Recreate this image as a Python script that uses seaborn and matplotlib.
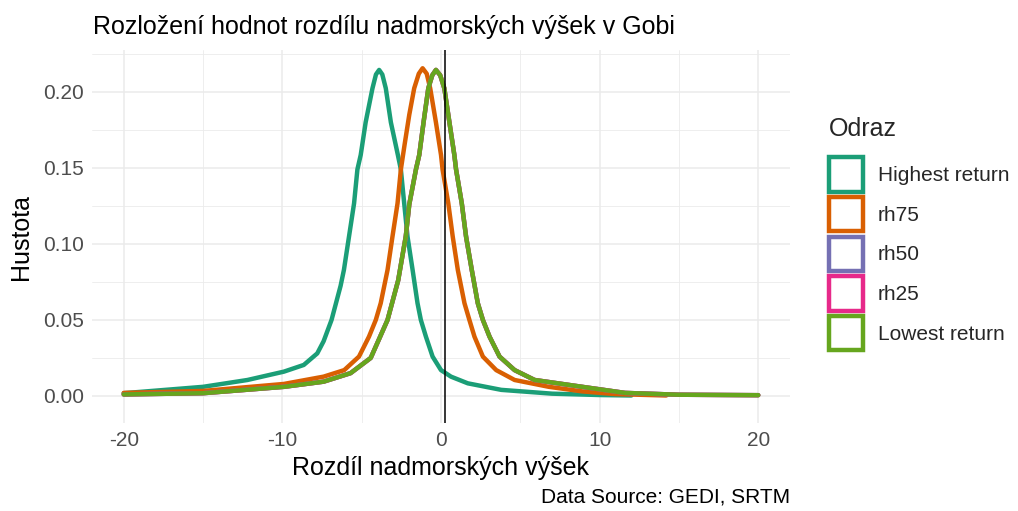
import matplotlib
matplotlib.use("Agg")
import matplotlib.pyplot as plt
from matplotlib.patches import Patch
from matplotlib.ticker import MultipleLocator
import seaborn as sns
import pandas as pd

# ---- data ----
series = ["Highest return", "rh75", "rh50", "rh25", "Lowest return"]
colors = ["#1b9e77", "#d95f02", "#7570b3", "#e7298a", "#66a61e"]

hr_x = [-20, -15, -12.2, -9.9, -8.65, -7.8, -7.4, -6.9, -6.33, -6.12, -5.8, -5.48, -5.27,
        -5.06, -4.75, -4.32, -4.1, -3.9, -3.7, -3.48, -3.16, -2.72, -2.53, -2.32, -2.11,
        -1.79, -1.48, -1.27, -0.95, -0.53, 0.0, 0.63, 1.69, 3.8, 7, 10, 12]
hr_y = [0.0018, 0.006, 0.0105, 0.016, 0.0204, 0.028, 0.036, 0.050, 0.0724, 0.0829, 0.1048,
        0.1267, 0.149, 0.1586, 0.180, 0.2024, 0.2115, 0.2145, 0.2115, 0.2024, 0.180, 0.1586,
        0.149, 0.1267, 0.1048, 0.0829, 0.061, 0.050, 0.039, 0.0259, 0.017, 0.0127, 0.0083,
        0.004, 0.0015, 0.0006, 0.0003]

r75_x = [-20, -15, -9.9, -7.4, -6.1, -5.17, -4.54, -4.11, -3.8, -3.37, -3.06, -2.74, -2.53,
         -2.3, -2.0, -1.69, -1.4, -1.16, -0.9, -0.68, -0.32, 0.0, 0.1, 0.46, 0.74, 1.06,
         1.48, 1.79, 2.11, 2.64, 3.48, 4.64, 6.8, 8.9, 11, 14.2]
r75_y = [0.002, 0.0033, 0.0079, 0.0127, 0.017, 0.0259, 0.039, 0.050, 0.061, 0.0829, 0.1048,
         0.1267, 0.149, 0.165, 0.185, 0.2024, 0.212, 0.2156, 0.212, 0.2024, 0.180, 0.1586,
         0.149, 0.1267, 0.1048, 0.0829, 0.061, 0.050, 0.039, 0.0259, 0.017, 0.0105, 0.006,
         0.003, 0.0012, 0.0003]

low_x = [-20, -15, -9.9, -7.4, -5.7, -4.43, -3.37, -2.7, -2.22, -2.0, -1.58, -1.37, -1.1,
         -0.8, -0.55, -0.32, -0.05, 0.21, 0.53, 0.84, 0.95, 1.31, 1.58, 1.94, 2.32, 2.64,
         3.06, 3.69, 4.64, 5.9, 8.9, 11.6, 15, 20]
low_y = [0.001, 0.0018, 0.006, 0.0094, 0.015, 0.025, 0.050, 0.076, 0.105, 0.126, 0.149,
         0.1586, 0.180, 0.2024, 0.211, 0.2145, 0.211, 0.2024, 0.180, 0.1586, 0.149, 0.1267,
         0.1048, 0.0829, 0.061, 0.050, 0.039, 0.0259, 0.017, 0.0105, 0.006, 0.002, 0.0008,
         0.0005]

r50_x = low_x
r50_y = low_y
r25_x = low_x
r25_y = low_y

vline_x = 0.25

title = "Rozložení hodnot rozdílu nadmorských výšek v Gobi"
xlabel = "Rozdíl nadmorských výšek"
ylabel = "Hustota"
caption = "Data Source: GEDI, SRTM"
legend_title = "Odraz"
xticks = [-20, -10, 0, 10, 20]
yticks = [0.0, 0.05, 0.10, 0.15, 0.20]

# ---- build long table ----
frames = []
for name, xs, ys in [("Highest return", hr_x, hr_y), ("rh75", r75_x, r75_y),
                     ("rh50", r50_x, r50_y), ("rh25", r25_x, r25_y),
                     ("Lowest return", low_x, low_y)]:
    frames.append(pd.DataFrame({"x": xs, "y": ys, "Odraz": name}))
df = pd.concat(frames, ignore_index=True)

sns.set_theme(style="whitegrid")
plt.rcParams["font.family"] = ["Liberation Sans", "DejaVu Sans"]

fig = plt.figure(figsize=(10.18, 5.11), dpi=100)
ax = fig.add_axes([92 / 1018, 1 - 423 / 511, 698 / 1018, 373 / 511])

palette = dict(zip(series, colors))
sns.lineplot(data=df, x="x", y="y", hue="Odraz", hue_order=series, palette=palette,
             estimator=None, sort=False, linewidth=3.2, legend=False, ax=ax)
for line in ax.get_lines():
    line.set_solid_joinstyle("round")
    line.set_solid_capstyle("round")
ax.axvline(vline_x, color="black", linewidth=1.1, zorder=5)

ax.set_xlim(-22, 22)
ax.set_ylim(-0.0178, 0.2276)
ax.set_xticks(xticks)
ax.set_xticklabels([f"{v:g}" for v in xticks])
ax.set_yticks(yticks)
ax.set_yticklabels([f"{v:.2f}" for v in yticks])
ax.xaxis.set_minor_locator(MultipleLocator(5))
ax.yaxis.set_minor_locator(MultipleLocator(0.025))
ax.grid(which="major", color="#ebebeb", linewidth=1.1)
ax.grid(which="minor", color="#ebebeb", linewidth=0.6)
ax.set_facecolor("white")
for s in ax.spines.values():
    s.set_visible(False)
ax.tick_params(axis="both", which="both", length=0, labelsize=15, colors="#4d4d4d", pad=6)

ax.set_xlabel(xlabel, fontsize=18, color="black", labelpad=4)
ax.set_ylabel(ylabel, fontsize=18, color="black", labelpad=7)
fig.text(93 / 1018, 1 - 27 / 511, title, fontsize=18, ha="left", va="center", color="black")
fig.text(790 / 1018, 1 - 497 / 511, caption, fontsize=15, ha="right", va="center", color="black")

handles = [Patch(facecolor="white", edgecolor=c, linewidth=3.2, label=s)
           for s, c in zip(series, colors)]
leg = fig.legend(handles=handles, title=legend_title, loc="upper left",
                 bbox_to_anchor=(829 / 1018, 1 - 117 / 511), frameon=False,
                 fontsize=15, title_fontsize=18, handlelength=1.62, handleheight=2.15,
                 labelspacing=0.26, handletextpad=0.72, borderaxespad=0, borderpad=0)
leg._legend_box.align = "left"
leg._legend_box.sep = 11.8

fig.savefig("out.png", dpi=100)
